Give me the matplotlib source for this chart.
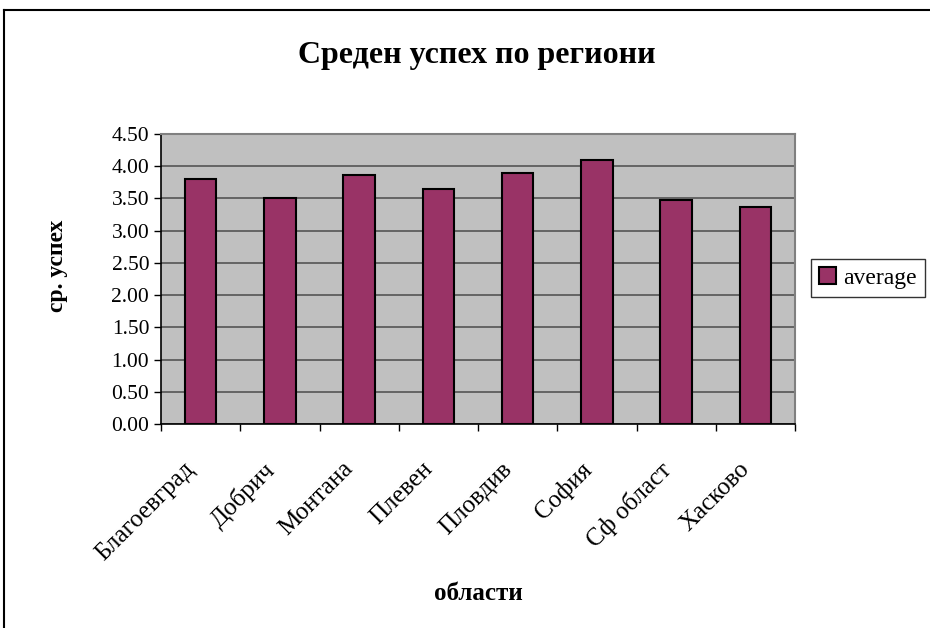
import numpy as np
import matplotlib.pyplot as plt
import matplotlib.transforms as mtransforms
from matplotlib.lines import Line2D

# данни
regions = ["Благоевград", "Добрич", "Монтана", "Плевен", "Пловдив",
           "София", "Сф област", "Хасково"]
average = [3.80, 3.50, 3.87, 3.65, 3.90, 4.09, 3.47, 3.37]
yticks = [0.0, 0.5, 1.0, 1.5, 2.0, 2.5, 3.0, 3.5, 4.0, 4.5]

plt.rcParams["font.family"] = ["Liberation Serif", "DejaVu Serif"]

fig = plt.figure(figsize=(9.3, 6.28), dpi=100)
ax = fig.add_axes([161 / 930, 1 - 424 / 628, (795 - 161) / 930, (424 - 134) / 628])

x = np.arange(len(regions))
ax.set_facecolor("#c0c0c0")
ax.set_axisbelow(True)
ax.grid(axis="y", color="#555555", linewidth=1.2)
ax.bar(x, average, width=0.4, color="#993366", edgecolor="black",
       linewidth=1.5, label="average", zorder=3)

ax.set_xlim(-0.5, len(regions) - 0.5)
ax.set_ylim(0, 4.5)
ax.set_yticks(yticks)
ax.set_yticklabels(["%.2f" % v for v in yticks], fontsize=15.5)

# тикчета между категориите
ax.set_xticks(np.arange(len(regions) + 1) - 0.5)
ax.set_xticklabels([])
ax.set_xticks(x, minor=True)
ax.set_xticklabels(regions, minor=True, rotation=45, ha="right",
                   rotation_mode="anchor", fontsize=18)
ax.tick_params(axis="x", which="minor", length=0, pad=10)
ax.tick_params(axis="both", which="major", direction="out", length=5,
               color="black", width=1)
shift = mtransforms.ScaledTranslation(-17 / 100, -20 / 100, fig.dpi_scale_trans)
for lbl in ax.get_xticklabels(minor=True):
    lbl.set_transform(lbl.get_transform() + shift)

for side in ["left", "bottom"]:
    ax.spines[side].set_color("black")
    ax.spines[side].set_linewidth(1.2)
for side in ["top", "right"]:
    ax.spines[side].set_color("#808080")
    ax.spines[side].set_linewidth(1.5)

ax.set_ylabel("ср. успех", fontsize=17, fontweight="bold", va="center")
ax.yaxis.set_label_coords((57 - 161) / 634, (424 - 266) / 290)
ax.set_xlabel("области", fontsize=18, fontweight="bold", va="center")
ax.xaxis.set_label_coords((478 - 161) / 634, (424 - 593) / 290)
fig.text(477 / 930, 1 - 55 / 628, "Среден успех по региони", ha="center",
         va="center", fontsize=23, fontweight="bold")

leg = fig.legend(loc="center left", bbox_to_anchor=(811 / 930, 1 - 278 / 628),
                 fontsize=17, frameon=True, fancybox=False, handlelength=0.7,
                 handleheight=0.7, handletextpad=0.3, borderpad=0.35,
                 borderaxespad=0)
leg.get_frame().set_edgecolor("black")
leg.get_frame().set_linewidth(1)

# рамка на диаграмата
fig.add_artist(Line2D([4 / 930, 1.0], [1 - 10 / 628, 1 - 10 / 628],
                      color="black", linewidth=1.5))
fig.add_artist(Line2D([4 / 930, 4 / 930], [0, 1 - 10 / 628],
                      color="black", linewidth=1.5))

fig.savefig("out.png", dpi=100)
